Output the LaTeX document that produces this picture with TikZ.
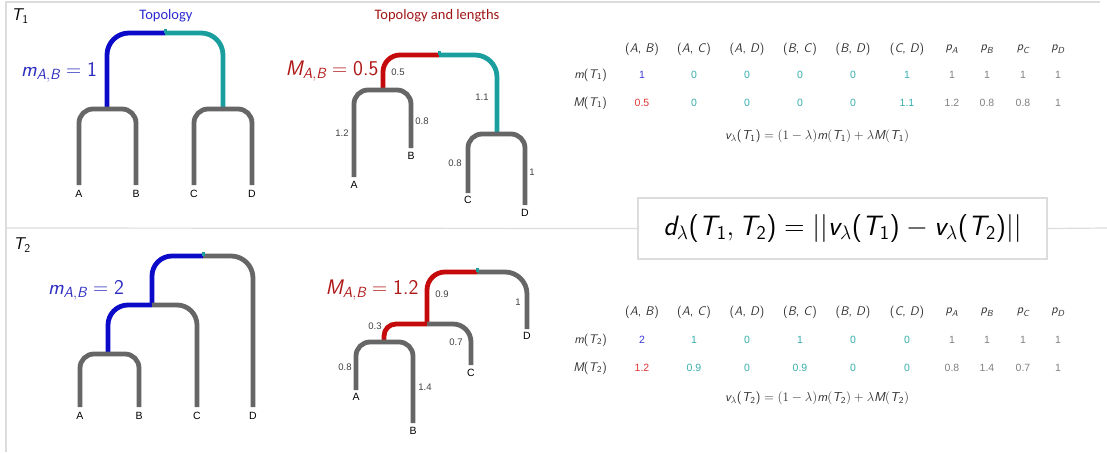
\RequirePackage{fix-cm}
\documentclass[tikz,border=0pt]{standalone}
\usepackage{amsmath}
\usepackage{fontspec}
\setmainfont{Liberation Sans}
\newfontfamily\carl{Carlito}
\newcommand\sfI[1]{\text{\normalfont\sffamily\itshape #1}}
\newcommand\sfU[1]{\text{\normalfont\sffamily #1}}
\definecolor{treegray}{HTML}{666666}
\definecolor{tblue}{HTML}{0A0AC8}
\definecolor{tteal}{HTML}{1A9E9E}
\definecolor{tred}{HTML}{C40A0A}
\definecolor{ttlblue}{HTML}{2A2AD0}
\definecolor{ttlred}{HTML}{A01414}
\definecolor{mblue}{HTML}{2E2EC0}
\definecolor{mred}{HTML}{B01818}
\definecolor{vb}{HTML}{3A3AD8}
\definecolor{vr}{HTML}{E03434}
\definecolor{vt}{HTML}{36AEAE}
\definecolor{vg}{HTML}{808080}
\definecolor{frame}{HTML}{DCDCDC}
\definecolor{elab}{HTML}{404040}
\definecolor{hdr}{HTML}{303030}
\begin{document}
\begin{tikzpicture}[x=1pt,y=-1pt,
  br/.style={line width=4.8pt, draw=treegray, rounded corners=#1},
  br/.default=14,
  tick/.style={draw=tteal, line width=3pt},
  leaf/.style={font=\fontsize{10.5}{12}\selectfont, anchor=north, inner sep=1pt, text=black},
  elabel/.style={font=\fontsize{9.5}{11}\selectfont, text=elab, inner sep=1pt},
  mlab/.style={font=\fontsize{21}{24}\selectfont, inner sep=0pt},
  title/.style={font=\carl\fontsize{14.5}{17}\selectfont, inner sep=0pt},
  tname/.style={font=\fontsize{17}{20}\selectfont, inner sep=0pt},
  hd/.style={font=\fontsize{12.5}{15}\selectfont, text=hdr, inner sep=0pt},
  val/.style={font=\fontsize{10.5}{12}\selectfont, inner sep=0pt},
  rowl/.style={font=\fontsize{12.5}{15}\selectfont, text=hdr, inner sep=0pt, anchor=east},
  fml/.style={font=\fontsize{13}{16}\selectfont, text=hdr, inner sep=0pt},
  frameline/.style={draw=frame, line width=1.2pt}
]
\useasboundingbox (0,0) rectangle (1107,452);
% frame
\coordinate (ftl) at (6,2);
\coordinate (ftr) at (1100,2);
\coordinate (fbl) at (6,452);
\coordinate (fml) at (6,228);
\coordinate (fmr) at (1107,228);
\draw[frameline] (fbl) -- (ftl) -- (ftr);
\node[draw=frame, line width=1.2pt, minimum width=409pt, minimum height=61pt, inner sep=0pt,
  font=\fontsize{28}{32}\selectfont, text=black] (dbox) at (842.5,228.5)
  {$\sfI{d}_\lambda\sfU{(}\sfI{T}_{\sfU{1}}, \sfI{T}_{\sfU{2}}\sfU{)} = \sfU{||}\sfI{v}_\lambda\sfU{(}\sfI{T}_{\sfU{1}}\sfU{)} - \sfI{v}_\lambda\sfU{(}\sfI{T}_{\sfU{2}}\sfU{)}\sfU{||}$};
\draw[frameline] (fml) -- (dbox.west);
\draw[frameline] (dbox.east) -- (fmr);

% titles
\node[tname] (t1) at (20,16) {$\sfI{T}_{\sfU{1}}$};
\node[tname] (t2) at (22,245) {$\sfI{T}_{\sfU{2}}$};
\node[title, text=ttlblue] (ttop) at (166,16) {Topology};
\node[title, text=ttlred] (ttopl) at (437,16) {Topology and lengths};

% ---------- T1 topology ----------
\coordinate (a-r) at (165,33);
\coordinate (a-p) at (107,109);
\coordinate (a-q) at (223,109);
\coordinate (a-A) at (79,185);
\coordinate (a-B) at (136,185);
\coordinate (a-C) at (194,185);
\coordinate (a-D) at (252,185);
\draw[br=22, draw=tblue] (a-r) -| (a-p);
\draw[br=22, draw=tteal] (a-r) -| (a-q);
\draw[br] (a-p) -| (a-A);
\draw[br] (a-p) -| (a-B);
\draw[br] (a-q) -| (a-C);
\draw[br] (a-q) -| (a-D);
\draw[tick] (a-r) -- ++(0,-4);
\node[leaf] (a-lA) at ([yshift=-4pt]a-A) {A};
\node[leaf] (a-lB) at ([yshift=-4pt]a-B) {B};
\node[leaf] (a-lC) at ([yshift=-4pt]a-C) {C};
\node[leaf] (a-lD) at ([yshift=-4pt]a-D) {D};
\node[mlab, text=mblue] (a-m) at (59,72) {$\sfI{m}_{\sfI{A},\sfI{B}}=\sfU{1}$};

% ---------- T1 lengths ----------
\coordinate (b-r) at (439,55);
\coordinate (b-p) at (383,90);
\coordinate (b-q) at (497,134);
\coordinate (b-A) at (354,177);
\coordinate (b-B) at (411,148);
\coordinate (b-C) at (468,193);
\coordinate (b-D) at (525,205);
\draw[br=17, draw=tred] (b-r) -| (b-p);
\draw[br=22, draw=tteal] (b-r) -| (b-q);
\draw[br] (b-p) -| (b-A);
\draw[br] (b-p) -| (b-B);
\draw[br] (b-q) -| (b-C);
\draw[br] (b-q) -| (b-D);
\draw[tick] (b-r) -- ++(0,-4);
\node[leaf] (b-lA) at ([yshift=-3pt]b-A) {A};
\node[leaf] (b-lB) at ([yshift=-3pt]b-B) {B};
\node[leaf] (b-lC) at ([yshift=-2pt]b-C) {C};
\node[leaf] (b-lD) at ([yshift=-3pt]b-D) {D};
\node[mlab, text=mred] (b-m) at (332,71) {$\sfI{M}_{\sfI{A},\sfI{B}}=\sfU{0.5}$};
\node[elabel] (b-e1) at (398,72) {0.5};
\node[elabel] (b-e2) at (342,133) {1.2};
\node[elabel] (b-e3) at (422,121) {0.8};
\node[elabel] (b-e4) at (482,97) {1.1};
\node[elabel] (b-e5) at (455,163) {0.8};
\node[elabel] (b-e6) at (532,172) {1};

% ---------- T2 topology ----------
\coordinate (c-r) at (203,256);
\coordinate (c-x) at (152,305);
\coordinate (c-p) at (108,354);
\coordinate (c-A) at (80,407);
\coordinate (c-B) at (139,407);
\coordinate (c-C) at (197,407);
\coordinate (c-D) at (253,407);
\draw[br=20, draw=tblue] (c-r) -| (c-x);
\draw[br=20, draw=tblue] (c-x) -| (c-p);
\draw[br=22] (c-r) -| (c-D);
\draw[br=20] (c-x) -| (c-C);
\draw[br] (c-p) -| (c-A);
\draw[br] (c-p) -| (c-B);
\draw[tick] (c-r) -- ++(0,-4);
\node[leaf] (c-lA) at ([yshift=-4pt]c-A) {A};
\node[leaf] (c-lB) at ([yshift=-4pt]c-B) {B};
\node[leaf] (c-lC) at ([yshift=-4pt]c-C) {C};
\node[leaf] (c-lD) at ([yshift=-4pt]c-D) {D};
\node[mlab, text=mblue] (c-m) at (86,290) {$\sfI{m}_{\sfI{A},\sfI{B}}=\sfU{2}$};

% ---------- T2 lengths ----------
\coordinate (d-r) at (477,272);
\coordinate (d-x) at (427,324);
\coordinate (d-p) at (384,342);
\coordinate (d-A) at (356,390);
\coordinate (d-B) at (413,423);
\coordinate (d-C) at (471,365);
\coordinate (d-D) at (527,329);
\draw[br=18, draw=tred] (d-r) -| (d-x);
\draw[br=12, draw=tred] (d-x) -| (d-p);
\draw[br=22] (d-r) -| (d-D);
\draw[br=18] (d-x) -| (d-C);
\draw[br] (d-p) -| (d-A);
\draw[br] (d-p) -| (d-B);
\draw[tick] (d-r) -- ++(0,-4);
\node[leaf] (d-lA) at ([yshift=-2pt]d-A) {A};
\node[leaf] (d-lB) at ([yshift=-3pt]d-B) {B};
\node[leaf] (d-lC) at ([yshift=-3pt]d-C) {C};
\node[leaf] (d-lD) at ([yshift=-2pt]d-D) {D};
\node[mlab, text=mred] (d-m) at (372,290) {$\sfI{M}_{\sfI{A},\sfI{B}}=\sfU{1.2}$};
\node[elabel] (d-e1) at (442,294) {0.9};
\node[elabel] (d-e2) at (518,302) {1};
\node[elabel] (d-e3) at (375,326) {0.3};
\node[elabel] (d-e4) at (456,342) {0.7};
\node[elabel] (d-e5) at (345,367) {0.8};
\node[elabel] (d-e6) at (425,387) {1.4};

% ---------- tables ----------
\foreach \x/\a/\b [count=\i] in {642/A/B,694/A/C,747/A/D,800/B/C,853/B/D,907/C/D}{
  \node[hd] (h1-\i) at (\x,49) {\sffamily(\textit{\a}, \textit{\b})};
  \node[hd] (h2-\i) at (\x,312) {\sffamily(\textit{\a}, \textit{\b})};
}
\foreach \x/\a [count=\i from 7] in {952/A,987/B,1023/C,1058/D}{
  \node[hd] (h1-\i) at (\x,49) {$\sfI{p}_{\sfI{\a}}$};
  \node[hd] (h2-\i) at (\x,312) {$\sfI{p}_{\sfI{\a}}$};
}
\node[rowl] (r1m) at (607,75) {$\sfI{m}\sfU{(}\sfI{T}_{\sfU{1}}\sfU{)}$};
\node[rowl] (r1M) at (607,103) {$\sfI{M}\sfU{(}\sfI{T}_{\sfU{1}}\sfU{)}$};
\node[rowl] (r2m) at (607,340) {$\sfI{m}\sfU{(}\sfI{T}_{\sfU{2}}\sfU{)}$};
\node[rowl] (r2M) at (607,368) {$\sfI{M}\sfU{(}\sfI{T}_{\sfU{2}}\sfU{)}$};
\foreach \x/\v/\c [count=\i] in {642/1/vb,694/0/vt,747/0/vt,800/0/vt,853/0/vt,907/1/vt,952/1/vg,987/1/vg,1023/1/vg,1058/1/vg}
  \node[val, text=\c] (v1m-\i) at (\x,75) {\v};
\foreach \x/\v/\c [count=\i] in {642/0.5/vr,694/0/vt,747/0/vt,800/0/vt,853/0/vt,907/1.1/vt,952/1.2/vg,987/0.8/vg,1023/0.8/vg,1058/1/vg}
  \node[val, text=\c] (v1M-\i) at (\x,103) {\v};
\foreach \x/\v/\c [count=\i] in {642/2/vb,694/1/vt,747/0/vt,800/1/vt,853/0/vt,907/0/vt,952/1/vg,987/1/vg,1023/1/vg,1058/1/vg}
  \node[val, text=\c] (v2m-\i) at (\x,340) {\v};
\foreach \x/\v/\c [count=\i] in {642/1.2/vr,694/0.9/vt,747/0/vt,800/0.9/vt,853/0/vt,907/0/vt,952/0.8/vg,987/1.4/vg,1023/0.7/vg,1058/1/vg}
  \node[val, text=\c] (v2M-\i) at (\x,368) {\v};
\node[fml] (f1) at (817,136) {$\sfI{v}_\lambda\sfU{(}\sfI{T}_{\sfU{1}}\sfU{)} = (1-\lambda)\sfI{m}(\sfI{T}_{\sfU{1}}) + \lambda \sfI{M}(\sfI{T}_{\sfU{1}})$};
\node[fml] (f2) at (817,398) {$\sfI{v}_\lambda\sfU{(}\sfI{T}_{\sfU{2}}\sfU{)} = (1-\lambda)\sfI{m}(\sfI{T}_{\sfU{2}}) + \lambda \sfI{M}(\sfI{T}_{\sfU{2}})$};
\end{tikzpicture}
\end{document}
